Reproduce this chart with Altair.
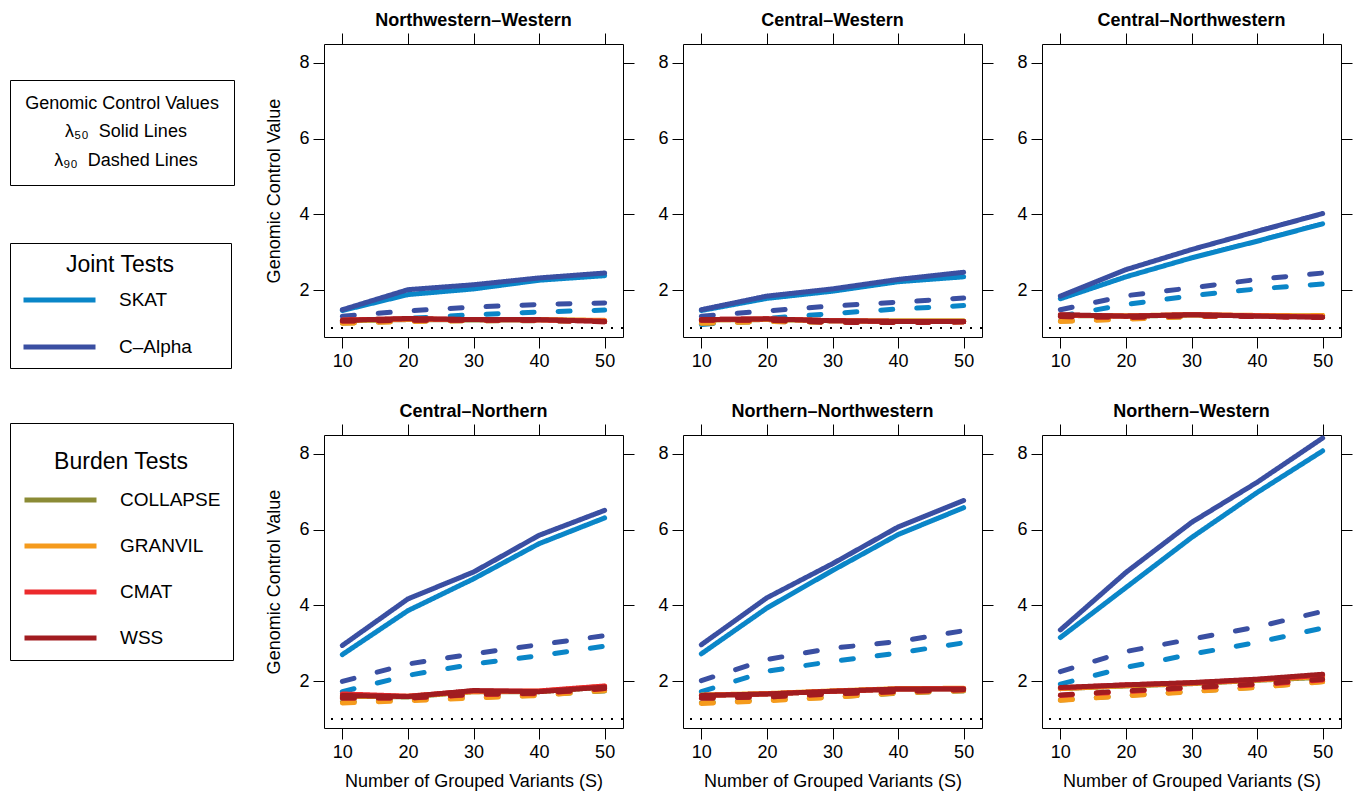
import altair as alt
import pandas as pd

S = [10, 20, 30, 40, 50]
PANELS = ["Northwestern–Western", "Central–Western", "Central–Northwestern",
          "Central–Northern", "Northern–Northwestern", "Northern–Western"]
JOINT = ["SKAT", "C–Alpha"]
BURDEN = ["COLLAPSE", "GRANVIL", "CMAT", "WSS"]
STATS = ["λ₅₀\u00a0\u00a0Solid Lines", "λ₉₀\u00a0\u00a0Dashed Lines"]
JOINT_COLORS = ["#0a86c8", "#3a4fa2"]
BURDEN_COLORS = ["#8b8b35", "#f59b1d", "#ec2a2c", "#a11c20"]

# values per panel (order as PANELS), lambda50 (solid) and lambda90 (dashed)
SKAT_50 = [[1.46, 1.88, 2.03, 2.26, 2.38], [1.46, 1.78, 1.97, 2.22, 2.35], [1.77, 2.35, 2.85, 3.29, 3.75],
           [2.70, 3.86, 4.70, 5.63, 6.31], [2.72, 3.93, 4.92, 5.87, 6.58], [3.15, 4.47, 5.79, 6.98, 8.08]]
SKAT_90 = [[1.15, 1.25, 1.35, 1.42, 1.47], [1.09, 1.25, 1.38, 1.50, 1.59], [1.31, 1.62, 1.85, 2.03, 2.16],
           [1.72, 2.15, 2.45, 2.67, 2.92], [1.72, 2.26, 2.52, 2.74, 3.01], [1.92, 2.36, 2.71, 3.02, 3.40]]
CALPHA_50 = [[1.48, 2.01, 2.14, 2.32, 2.45], [1.48, 1.84, 2.03, 2.28, 2.47], [1.84, 2.54, 3.07, 3.55, 4.02],
             [2.94, 4.17, 4.88, 5.85, 6.51], [2.96, 4.20, 5.10, 6.07, 6.77], [3.35, 4.87, 6.19, 7.25, 8.42]]
CALPHA_90 = [[1.31, 1.45, 1.55, 1.62, 1.66], [1.31, 1.45, 1.58, 1.68, 1.79], [1.48, 1.85, 2.06, 2.28, 2.45],
             [1.99, 2.45, 2.72, 2.96, 3.20], [2.01, 2.57, 2.87, 3.04, 3.33], [2.25, 2.78, 3.11, 3.43, 3.84]]
COLLAPSE_50 = [[1.19, 1.22, 1.21, 1.21, 1.19], [1.21, 1.22, 1.19, 1.18, 1.18], [1.33, 1.31, 1.34, 1.32, 1.31],
               [1.60, 1.58, 1.72, 1.72, 1.84], [1.62, 1.66, 1.73, 1.79, 1.80], [1.80, 1.87, 1.93, 2.02, 2.10]]
COLLAPSE_90 = [[1.13, 1.18, 1.19, 1.19, 1.17], [1.13, 1.17, 1.15, 1.15, 1.16], [1.18, 1.24, 1.30, 1.32, 1.32],
               [1.45, 1.50, 1.57, 1.63, 1.74], [1.43, 1.50, 1.58, 1.68, 1.74], [1.50, 1.62, 1.73, 1.84, 1.99]]
GRANVIL_50 = [[1.20, 1.23, 1.22, 1.22, 1.20], [1.21, 1.23, 1.19, 1.18, 1.18], [1.33, 1.32, 1.35, 1.33, 1.32],
              [1.60, 1.60, 1.72, 1.73, 1.86], [1.63, 1.67, 1.74, 1.80, 1.81], [1.80, 1.88, 1.94, 2.03, 2.12]]
GRANVIL_90 = [[1.12, 1.17, 1.19, 1.20, 1.18], [1.12, 1.17, 1.15, 1.15, 1.16], [1.17, 1.23, 1.30, 1.32, 1.33],
              [1.42, 1.48, 1.55, 1.62, 1.75], [1.41, 1.48, 1.57, 1.69, 1.75], [1.49, 1.61, 1.72, 1.83, 1.98]]
CMAT_50 = [[1.21, 1.24, 1.22, 1.21, 1.18], [1.22, 1.24, 1.19, 1.17, 1.17], [1.34, 1.31, 1.35, 1.32, 1.29],
           [1.66, 1.60, 1.74, 1.74, 1.87], [1.62, 1.66, 1.73, 1.79, 1.80], [1.82, 1.90, 1.95, 2.04, 2.15]]
CMAT_90 = [[1.18, 1.20, 1.20, 1.20, 1.16], [1.20, 1.20, 1.15, 1.14, 1.16], [1.30, 1.28, 1.32, 1.30, 1.28],
           [1.55, 1.55, 1.64, 1.67, 1.80], [1.55, 1.58, 1.66, 1.72, 1.77], [1.62, 1.72, 1.82, 1.90, 2.03]]
WSS_50 = [[1.20, 1.25, 1.22, 1.22, 1.17], [1.22, 1.24, 1.19, 1.17, 1.17], [1.35, 1.31, 1.35, 1.31, 1.28],
          [1.62, 1.59, 1.75, 1.72, 1.84], [1.62, 1.66, 1.73, 1.79, 1.79], [1.83, 1.90, 1.96, 2.05, 2.18]]
WSS_90 = [[1.18, 1.20, 1.20, 1.20, 1.16], [1.20, 1.20, 1.15, 1.14, 1.16], [1.30, 1.28, 1.32, 1.30, 1.28],
          [1.55, 1.55, 1.65, 1.68, 1.80], [1.55, 1.58, 1.66, 1.72, 1.77], [1.63, 1.74, 1.83, 1.92, 2.05]]

JOINT_SERIES = {"SKAT": (SKAT_50, SKAT_90), "C–Alpha": (CALPHA_50, CALPHA_90)}
BURDEN_SERIES = {"COLLAPSE": (COLLAPSE_50, COLLAPSE_90), "GRANVIL": (GRANVIL_50, GRANVIL_90),
                 "CMAT": (CMAT_50, CMAT_90), "WSS": (WSS_50, WSS_90)}


def rows(series, key, p):
    out = []
    for name, (v50, v90) in series.items():
        for stat, vals in ((STATS[1], v90[p]), (STATS[0], v50[p])):
            for s, v in zip(S, vals):
                out.append({key: name, "stat": stat, "S": s, "value": v, "series": name + stat})
    return pd.DataFrame(out)


XS = alt.Scale(domain=[7.2, 52.8], nice=False, zero=False)
YS = alt.Scale(domain=[0.76, 8.5], nice=False, zero=False)
DASH = alt.Scale(domain=STATS, range=[[1, 0], [12, 24]])
PADCH = "\u2800\u2800"

stat_legend = alt.Legend(
    title="Genomic Control Values", orient="none", legendX=-314, legendY=36,
    symbolSize=0, symbolStrokeWidth=0, labelAlign="center", labelOffset=62,
    labelFontSize=18, titleFontSize=18, titleFontWeight="normal", titleAnchor="middle",
    titleLimit=400, labelLimit=400,
    padding=15, titlePadding=10, clipHeight=18, rowPadding=11,
    strokeColor="black", fillColor="white", labelColor="black", titleColor="black")
joint_legend = alt.Legend(
    title="Joint Tests", orient="none", legendX=-314, legendY=199,
    symbolType="stroke", symbolSize=5184, symbolStrokeWidth=5, labelOffset=21,
    labelExpr="datum.label + '" + PADCH + "'", labelLimit=400,
    labelFontSize=19, titleFontSize=23, titleFontWeight="normal", titleAnchor="middle",
    padding=11, titlePadding=13, clipHeight=20, rowPadding=27,
    strokeColor="black", fillColor="white", labelColor="black", titleColor="black")
burden_legend = alt.Legend(
    title=["", "Burden Tests"], titleLineHeight=16, orient="none", legendX=-314, legendY=379,
    symbolType="stroke", symbolSize=5184, symbolStrokeWidth=5, labelOffset=21,
    labelFontSize=19, titleFontSize=23, titleFontWeight="normal", titleAnchor="middle",
    padding=12, titlePadding=16, clipHeight=20, rowPadding=26,
    strokeColor="black", fillColor="white", labelColor="black", titleColor="black")


def panel(p, ytitle, xtitle):
    jd = rows(JOINT_SERIES, "joint", p)
    bd = rows(BURDEN_SERIES, "burden", p)
    ref = alt.Chart(pd.DataFrame({"ref": [1.0]})).mark_rule(
        color="black", strokeWidth=2, strokeDash=[2, 8]
    ).encode(y=alt.Y("ref:Q", scale=YS, axis=None))
    line_kw = dict(strokeWidth=5, strokeCap="round", strokeJoin="round")
    joint = alt.Chart(jd).mark_line(**line_kw).encode(
        x=alt.X("S:Q", scale=XS, axis=alt.Axis(orient="bottom", values=S, title=xtitle, titlePadding=11)),
        y=alt.Y("value:Q", scale=YS, axis=alt.Axis(orient="left", values=[2, 4, 6, 8], title=ytitle, titlePadding=15)),
        color=alt.Color("joint:N", scale=alt.Scale(domain=JOINT, range=JOINT_COLORS), legend=joint_legend),
        strokeDash=alt.StrokeDash("stat:N", scale=DASH, legend=stat_legend),
        detail="series:N",
    )
    burden = alt.Chart(bd).mark_line(**line_kw).encode(
        x=alt.X("S:Q", scale=XS, axis=alt.Axis(orient="top", values=S, labels=False, title=None)),
        y=alt.Y("value:Q", scale=YS, axis=alt.Axis(orient="right", values=[2, 4, 6, 8], labels=False, title=None)),
        stroke=alt.Stroke("burden:N", scale=alt.Scale(domain=BURDEN, range=BURDEN_COLORS), legend=burden_legend),
        strokeDash=alt.StrokeDash("stat:N", scale=DASH, legend=stat_legend),
        detail="series:N",
    )
    return alt.layer(ref, joint, burden).resolve_axis(x="independent", y="independent").properties(
        width=299, height=293,
        title=alt.TitleParams(PANELS[p], fontSize=18, fontWeight="bold", offset=3,
                              anchor="middle", frame="group", color="black"),
    )


YT = "Genomic Control Value"
XT = "Number of Grouped Variants (S)"
panels = [panel(0, YT, None), panel(1, None, None), panel(2, None, None),
          panel(3, YT, XT), panel(4, None, XT), panel(5, None, XT)]

chart = alt.concat(*panels, columns=3, spacing={"row": 98, "column": 60}, bounds="flush").properties(
    padding={"left": 9, "top": 11, "right": 0, "bottom": 0}
).configure(font="Liberation Sans").configure_view(
    stroke="black", strokeWidth=1
).configure_axis(
    domain=False, grid=False, tickColor="black", tickSize=11, tickWidth=1,
    labelFontSize=18, labelColor="black", labelPadding=4,
    titleFontSize=18, titleFontWeight="normal", titleColor="black",
)

chart.save("out.html", embed_options={"renderer": "svg", "actions": False})
